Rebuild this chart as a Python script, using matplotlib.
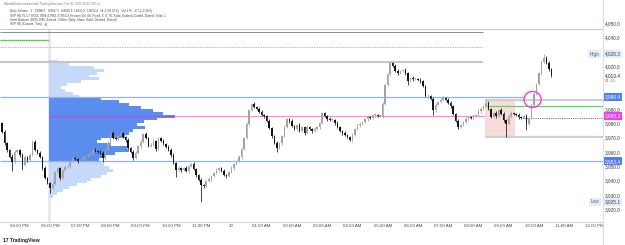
import matplotlib
matplotlib.use("Agg")
import matplotlib.pyplot as plt
import matplotlib.transforms as mtransforms
from matplotlib.patches import Rectangle, Ellipse
from matplotlib.lines import Line2D
import numpy as np

plt.rcParams['font.family'] = ['Liberation Sans', 'DejaVu Sans']

# 5 minute candles, bar 0 = 06:00 PM open (the 5-6 PM break is skipped)
first_bar = -19
first_open = 3980.0
closes = [
    3974.0, 3966.0, 3961.0, 3956.7, 3953.0, 3960.0, 3961.0, 3958.0, 3951.0, 3956.5,
    3954.4, 3958.0, 3967.0, 3961.4, 3959.3, 3956.5, 3948.8, 3941.8, 3938.3, 3934.8,
    3937.6, 3946.0, 3948.8, 3941.8, 3947.4, 3949.5, 3950.2, 3953.7, 3955.8, 3955.1,
    3953.7, 3954.4, 3955.8, 3957.2, 3958.0, 3959.3, 3961.4, 3960.7, 3960.0, 3959.3,
    3955.8, 3961.4, 3966.3, 3973.2, 3969.7, 3969.0, 3971.2, 3973.2, 3970.4, 3968.3,
    3962.8, 3960.0, 3955.8, 3959.3, 3964.2, 3967.0, 3972.5, 3969.7, 3964.2, 3964.9,
    3967.7, 3962.1, 3969.7, 3967.7, 3965.6, 3963.5, 3961.4, 3958.0, 3952.3, 3947.4,
    3948.8, 3947.4, 3948.8, 3946.7, 3950.2, 3951.6, 3948.1, 3943.9, 3940.4, 3937.0,
    3936.3, 3939.7, 3941.1, 3943.2, 3945.3, 3947.4, 3948.8, 3946.7, 3943.9, 3943.2,
    3946.0, 3948.8, 3951.6, 3953.7, 3956.5, 3962.1, 3969.7, 3979.5, 3989.3, 3993.5,
    3991.4, 3990.0, 3987.9, 3985.8, 3985.1, 3981.6, 3976.7, 3971.1, 3966.3, 3962.8,
    3966.3, 3971.1, 3977.4, 3983.0, 3981.6, 3978.1, 3976.0, 3978.8, 3974.6, 3977.4,
    3973.2, 3977.4, 3976.0, 3974.6, 3976.0, 3977.4, 3980.2, 3987.2, 3985.1, 3983.0,
    3982.3, 3982.3, 3980.2, 3977.4, 3974.6, 3973.2, 3971.8, 3970.4, 3968.3, 3971.8,
    3976.0, 3978.8, 3979.5, 3980.9, 3983.0, 3984.4, 3983.7, 3985.8, 3985.8, 3985.1,
    3985.1, 3993.5, 4006.7, 4014.4, 4022.1, 4020.0, 4016.5, 4015.1, 4016.5, 4017.2,
    4015.1, 4009.5, 4011.6, 4010.9, 4010.9, 4010.2, 4009.5, 4006.0, 3999.0, 3999.0,
    3997.0, 3989.3, 3992.8, 3994.9, 3996.3, 3997.7, 3996.3, 3994.2, 3992.1, 3986.5,
    3981.6, 3977.4, 3978.8, 3980.9, 3983.0, 3984.4, 3983.7, 3985.1, 3985.8, 3988.6,
    3990.0, 3992.1, 3994.2, 3990.0, 3984.4, 3987.2, 3985.1, 3989.3, 3986.5, 3982.3,
    3979.5, 3985.1, 3987.2, 3986.5, 3985.8, 3984.4, 3983.7, 3985.1, 3979.5, 3983.7,
    3992.8, 4000.5, 4007.4, 4015.1, 4022.8, 4025.6, 4022.1, 4017.9, 4013.4,
]
wick_up = [
    1.0, 1.2, 0.8, 1.0, 1.5, 1.0, 1.3, 0.8, 1.0, 1.2,
    0.8, 1.0, 1.0, 1.2, 0.9, 1.0, 0.8, 1.1, 1.0, 0.9,
    1.2, 1.0, 1.4, 0.8, 1.0, 1.2, 0.9, 1.0, 1.1, 0.8,
    1.0, 0.9, 1.2, 0.8, 1.0, 1.1, 0.9, 1.0, 0.8, 1.2,
    1.0, 1.3, 1.0, 0.9, 1.2, 0.8, 1.0, 1.1, 0.9, 1.0,
    1.2, 0.8, 1.0, 1.1, 0.9, 1.0, 0.7, 1.2, 0.8, 1.0,
    1.1, 0.9, 0.9, 1.0, 1.2, 0.8, 1.0, 1.1, 0.9, 1.0,
    1.2, 0.8, 1.0, 1.1, 0.9, 1.0, 1.2, 0.8, 1.0, 1.1,
    0.9, 1.0, 1.2, 0.8, 1.0, 1.1, 0.9, 1.0, 1.2, 0.8,
    1.0, 1.1, 0.9, 1.0, 1.2, 0.8, 1.0, 1.1, 0.9, 0.5,
    1.2, 0.8, 1.0, 1.1, 0.9, 1.0, 1.2, 0.8, 1.0, 1.1,
    0.9, 1.0, 1.2, 0.8, 1.0, 1.1, 0.9, 1.0, 1.2, 0.8,
    1.0, 1.1, 0.9, 1.0, 1.2, 0.8, 1.0, 0.9, 0.9, 1.0,
    1.2, 0.8, 1.0, 1.1, 0.9, 1.0, 1.2, 0.8, 1.0, 1.1,
    0.9, 1.0, 1.2, 0.8, 1.0, 1.1, 0.9, 1.0, 1.2, 0.8,
    1.0, 1.1, 0.9, 1.0, 0.9, 0.8, 1.0, 1.1, 0.9, 1.0,
    1.2, 0.8, 1.0, 1.1, 0.9, 1.0, 1.2, 0.8, 1.0, 1.1,
    0.9, 1.0, 1.2, 0.8, 1.0, 1.1, 0.9, 1.0, 1.2, 0.8,
    1.0, 1.1, 0.9, 1.0, 1.2, 0.8, 1.0, 1.1, 0.9, 1.0,
    1.2, 0.8, 2.3, 1.1, 0.9, 1.0, 1.2, 0.8, 1.0, 1.1,
    0.9, 1.0, 1.2, 0.8, 1.0, 1.1, 0.9, 1.0, 1.2, 0.8,
    1.0, 1.1, 0.9, 1.0, 1.2, 2.7, 1.0, 1.1, 0.9,
]
wick_dn = [
    1.0, 1.5, 1.0, 1.2, 6.4, 0.9, 1.0, 1.3, 3.6, 1.0,
    1.2, 0.9, 1.0, 1.1, 0.8, 1.0, 1.2, 0.9, 1.0, 3.5,
    1.0, 0.8, 1.1, 1.2, 0.9, 1.0, 0.8, 1.1, 1.0, 0.9,
    1.2, 1.0, 0.8, 1.1, 0.9, 1.0, 1.2, 0.8, 1.0, 1.1,
    2.8, 1.0, 0.9, 1.2, 0.8, 1.0, 1.1, 0.9, 1.0, 1.2,
    0.8, 1.0, 1.4, 0.9, 1.0, 1.2, 0.8, 1.0, 1.1, 0.9,
    1.0, 1.2, 0.8, 1.0, 1.1, 0.9, 1.0, 1.2, 0.8, 4.7,
    1.0, 1.1, 0.9, 1.0, 1.2, 0.8, 1.0, 1.1, 0.9, 11.9,
    1.2, 0.8, 1.0, 1.1, 0.9, 1.0, 1.2, 0.8, 1.0, 1.1,
    0.9, 1.0, 1.2, 0.8, 1.0, 1.1, 0.9, 1.0, 1.2, 0.8,
    1.0, 1.1, 0.9, 1.0, 1.2, 0.8, 1.0, 1.1, 0.9, 2.6,
    1.0, 1.2, 0.8, 1.0, 1.1, 0.9, 1.0, 1.2, 0.8, 1.0,
    1.1, 0.9, 1.0, 1.2, 0.8, 1.0, 1.1, 0.9, 1.0, 1.2,
    0.8, 1.0, 1.1, 0.9, 1.0, 1.2, 0.8, 1.0, 0.7, 1.1,
    0.9, 1.0, 1.2, 0.8, 1.0, 1.1, 0.9, 1.0, 1.2, 0.8,
    1.0, 1.1, 0.9, 1.0, 1.2, 0.8, 1.0, 1.1, 0.9, 1.0,
    1.2, 2.8, 1.0, 1.1, 0.9, 1.0, 1.2, 0.8, 1.0, 1.1,
    0.9, 3.5, 1.2, 0.8, 1.0, 1.1, 0.9, 1.0, 1.2, 0.8,
    1.0, 1.4, 0.9, 1.0, 1.2, 0.8, 1.0, 1.1, 0.9, 1.0,
    1.2, 0.8, 1.0, 1.1, 0.9, 1.0, 1.2, 0.8, 1.0, 1.1,
    9.0, 1.0, 1.2, 0.8, 1.0, 1.1, 0.9, 1.0, 4.2, 0.8,
    1.0, 1.1, 0.9, 1.0, 1.2, 0.8, 1.0, 1.1, 0.9,
]

# session volume profile, 2 point rows
profile_prices = [
    4023, 4021, 4019, 4017, 4015, 4013, 4011, 4009, 4007, 4005, 4003, 4001,
    3999, 3997, 3995, 3993, 3991, 3989, 3987, 3985, 3983, 3981, 3979, 3977,
    3975, 3973, 3971, 3969, 3967, 3965, 3963, 3961, 3959, 3957, 3955, 3953,
    3951, 3949, 3947, 3945, 3943, 3941, 3939, 3937, 3935, 3933, 3931, 3929,
]
profile_volume = [
    9, 20, 45, 55, 48, 40, 50, 32, 18, 12, 16, 24,
    30, 52, 70, 80, 92, 104, 114, 126, 108, 95, 88, 96,
    84, 80, 76, 52, 48, 62, 78, 80, 66, 56, 50, 52,
    55, 60, 64, 58, 52, 42, 38, 28, 20, 14, 8, 4,
]

vah, poc, val = 3998.4, 3985.3, 3953.4
ib_high, ib_low, ib_mid, ib_open = 3996.5, 3970.5, 3983.5, 3992.1
prev_top, prev_high, prev_green, prev_dash, prev_level = 4045.9, 4043.7, 4038.1, 4033.2, 4022.8
day_high, day_low, last_price = 4028.3, 3925.1, 4013.4

time_labels = ["04:00 PM", "06:00 PM", "07:00 PM", "08:00 PM", "09:00 PM", "10:00 PM",
               "11:00 PM", "30", "01:00 AM", "02:00 AM", "03:00 AM", "04:00 AM",
               "05:00 AM", "06:00 AM", "07:00 AM", "08:00 AM", "09:00 AM", "10:00 AM",
               "11:00 AM", "12:00 PM"]
price_ticks = [4050, 4040, 4020, 3990, 3980, 3970, 3960, 3950, 3940, 3930, 3920]

# ---- figure -----------------------------------------------------------
W, H = 625, 245
fig = plt.figure(figsize=(W / 100, H / 100), dpi=100)
ax = fig.add_axes([0, 23 / H, 603 / W, 222 / H])
x0, x1 = -19.84, 219.44
y0, y1 = 3911.1, 4066.0
ax.set_xlim(x0, x1)
ax.set_ylim(y0, y1)

# candles
closes = np.array(closes)
opens = np.concatenate([[first_open], closes[:-1]])
highs = np.maximum(opens, closes) + np.array(wick_up)
lows = np.minimum(opens, closes) - np.array(wick_dn)
bars = np.arange(first_bar, first_bar + len(closes))
col = np.where(closes >= opens, '#a3a3a3', '#141414')
ax.vlines(bars, lows, highs, colors=col, lw=0.55, zorder=4)
ax.bar(bars, np.maximum(np.abs(closes - opens), 0.35), bottom=np.minimum(opens, closes),
       width=0.6, color=col, lw=0, zorder=4)

# volume profile anchored at the session open
vol = np.array(profile_volume, dtype=float)
pp = np.array(profile_prices, dtype=float)
in_va = (pp >= val) & (pp <= vah)
ax.barh(pp, vol / vol.max() * 50, height=2.0, left=-0.5,
        color=np.where(in_va, '#5b8def', '#c7d9fb'), lw=0, zorder=1)
ax.vlines(-0.5, y0, prev_top, color='#e6e6e6', lw=1.8, zorder=0.4)

# levels
ax.hlines(prev_top, x0, x1, color='#b6bef2', lw=0.6, zorder=2)
ax.hlines(prev_high, x0, 171.8, color='#8c8c8c', lw=0.7, zorder=2)
ax.hlines(prev_green, x0, -0.5, color='#58d058', lw=1.0, zorder=2)
ax.hlines(prev_dash, x0, 171.8, color='#9c9c9c', lw=0.5, linestyles=(0, (2, 1.5)), zorder=2)
ax.hlines(prev_level, x0, 171.8, color='#c6c6c6', lw=1.5, zorder=2)
ax.hlines(vah, x0, 187.5, color='#93b1f5', lw=0.9, zorder=2)
ax.hlines(val, x0, x1, color='#93b1f5', lw=0.9, zorder=2)
ax.hlines(poc, -0.5, 49.5, color='#b84ce6', lw=0.9, zorder=2)
ax.hlines(poc, 49.5, 172.5, color='#f48cf0', lw=0.9, zorder=2)

# initial balance
ax.add_patch(Rectangle((172.5, ib_low), 12, ib_high - ib_low, fc='#f8dcdc', ec='none', zorder=0.5))
ax.hlines([ib_high, ib_low], 172.5, x1, color='#cfcfcf', lw=1.6, zorder=2)
ax.hlines(ib_open, 172.5, x1, color='#5bd55b', lw=0.9, zorder=2)
ax.hlines(ib_mid, 187.5, x1, color='#444444', lw=0.6, linestyles=(0, (1, 1.2)), zorder=2)
ax.add_patch(Ellipse((191.5, 3996.6), 6.8, 11.2, fill=False, ec='#e940e0', lw=1.0, zorder=6))

# axes look
for s in ['top', 'left', 'right']:
    ax.spines[s].set_visible(False)
ax.spines['bottom'].set_color('#d6d6d6')
ax.spines['bottom'].set_linewidth(0.8)

tick_bars = [-12] + list(range(0, 217, 12))
ax.set_xticks(tick_bars)
ax.set_xticklabels(time_labels)
ax.tick_params(axis='x', length=0, pad=1.5, labelsize=3.2, labelcolor='#4a4a4a')

ax.yaxis.tick_right()
ax.set_yticks(price_ticks)
ax.set_yticklabels([f"{v:,.1f}" for v in price_ticks])
ax.tick_params(axis='y', length=0, pad=1.1, labelsize=3.4, labelcolor='#3b3b3b')

tr = mtransforms.blended_transform_factory(ax.transAxes, ax.transData)


def price_tag(price, face, color):
    ax.text(1.0028, price, f"{price:,.1f}", transform=tr, fontsize=3.4, color=color,
            va='center', ha='left', clip_on=False, zorder=10,
            bbox=dict(boxstyle='square,pad=0.3', fc=face, ec='none'))


price_tag(vah, '#4f7df3', 'white')
price_tag(poc, '#f03cf0', 'white')
price_tag(val, '#4f7df3', 'white')
price_tag(day_high, '#e3ecfa', '#3b3b3b')
price_tag(day_low, '#e3ecfa', '#3b3b3b')
price_tag(last_price, 'white', '#222222')
ax.annotate("01:15", xy=(1.0028, last_price), xycoords=tr, xytext=(0, -4.2),
            textcoords='offset points', fontsize=3.2, color='#777777', va='center',
            ha='left', annotation_clip=False, zorder=10)
for txt, p in [("High", day_high), ("Low", day_low)]:
    ax.text(0.9942, p, txt, transform=tr, fontsize=3.4, color='#5d6370', va='center',
            ha='right', zorder=10, bbox=dict(boxstyle='square,pad=0.3', fc='#e3ecfa', ec='none'))

# right price-scale border and clipping of the last time label
fig.add_artist(Rectangle((603.5 / W, 0), 1, 23 / H, transform=fig.transFigure,
                         fc='white', ec='none', zorder=5))
fig.add_artist(Line2D([602.5 / W] * 2, [0, 1], transform=fig.transFigure,
                      color='#dcdfe6', lw=0.8, zorder=6))

# header text
hdr = [
    (4, 4, "MentalGecko created with TradingView.com, Oct 30, 2023 10:32 UTC-4", '#777777'),
    (10, 11, "Daily Volume · 1 · CDNEX   O4017.5  H4019.9  L4013.5  C4013.4  −4.1 (−0.10%)   Vol 278  +0.7 (+0.32%)", '#444444'),
    (10, 15.5, "SVP HD 70 1.7 EVOL 3998.4 3985.3 3953.4 Session Vol, 68, Fixed, 0, 0, 70, Solid, Dashed, Dotted, Dotted, Solid, 1", '#444444'),
    (10, 20, "Initial Balance (0930-1030, Extend, 3 Mins, Daily, Show, Solid, Dashed, Dotted)", '#444444'),
]
for x, y, t, c in hdr:
    fig.text(x / W, 1 - y / H, t, fontsize=2.2, color=c, va='center', ha='left')
svp = fig.text(10 / W, 1 - 24.5 / H, "SVP HD (Custom, Total)", fontsize=2.2, color='#444444',
               va='center', ha='left')
fig.canvas.draw()
bb = svp.get_window_extent()
fig.text((bb.x1 + 2) / W, 1 - 24.5 / H, "4.8", fontsize=2.2, color='#2962ff', va='center', ha='left')

fig.text(3 / W, 1 - 240 / H, "17 TradingView", fontsize=3.6, weight='bold', color='#131722',
         va='center', ha='left')

fig.savefig("out.png", dpi=100)
